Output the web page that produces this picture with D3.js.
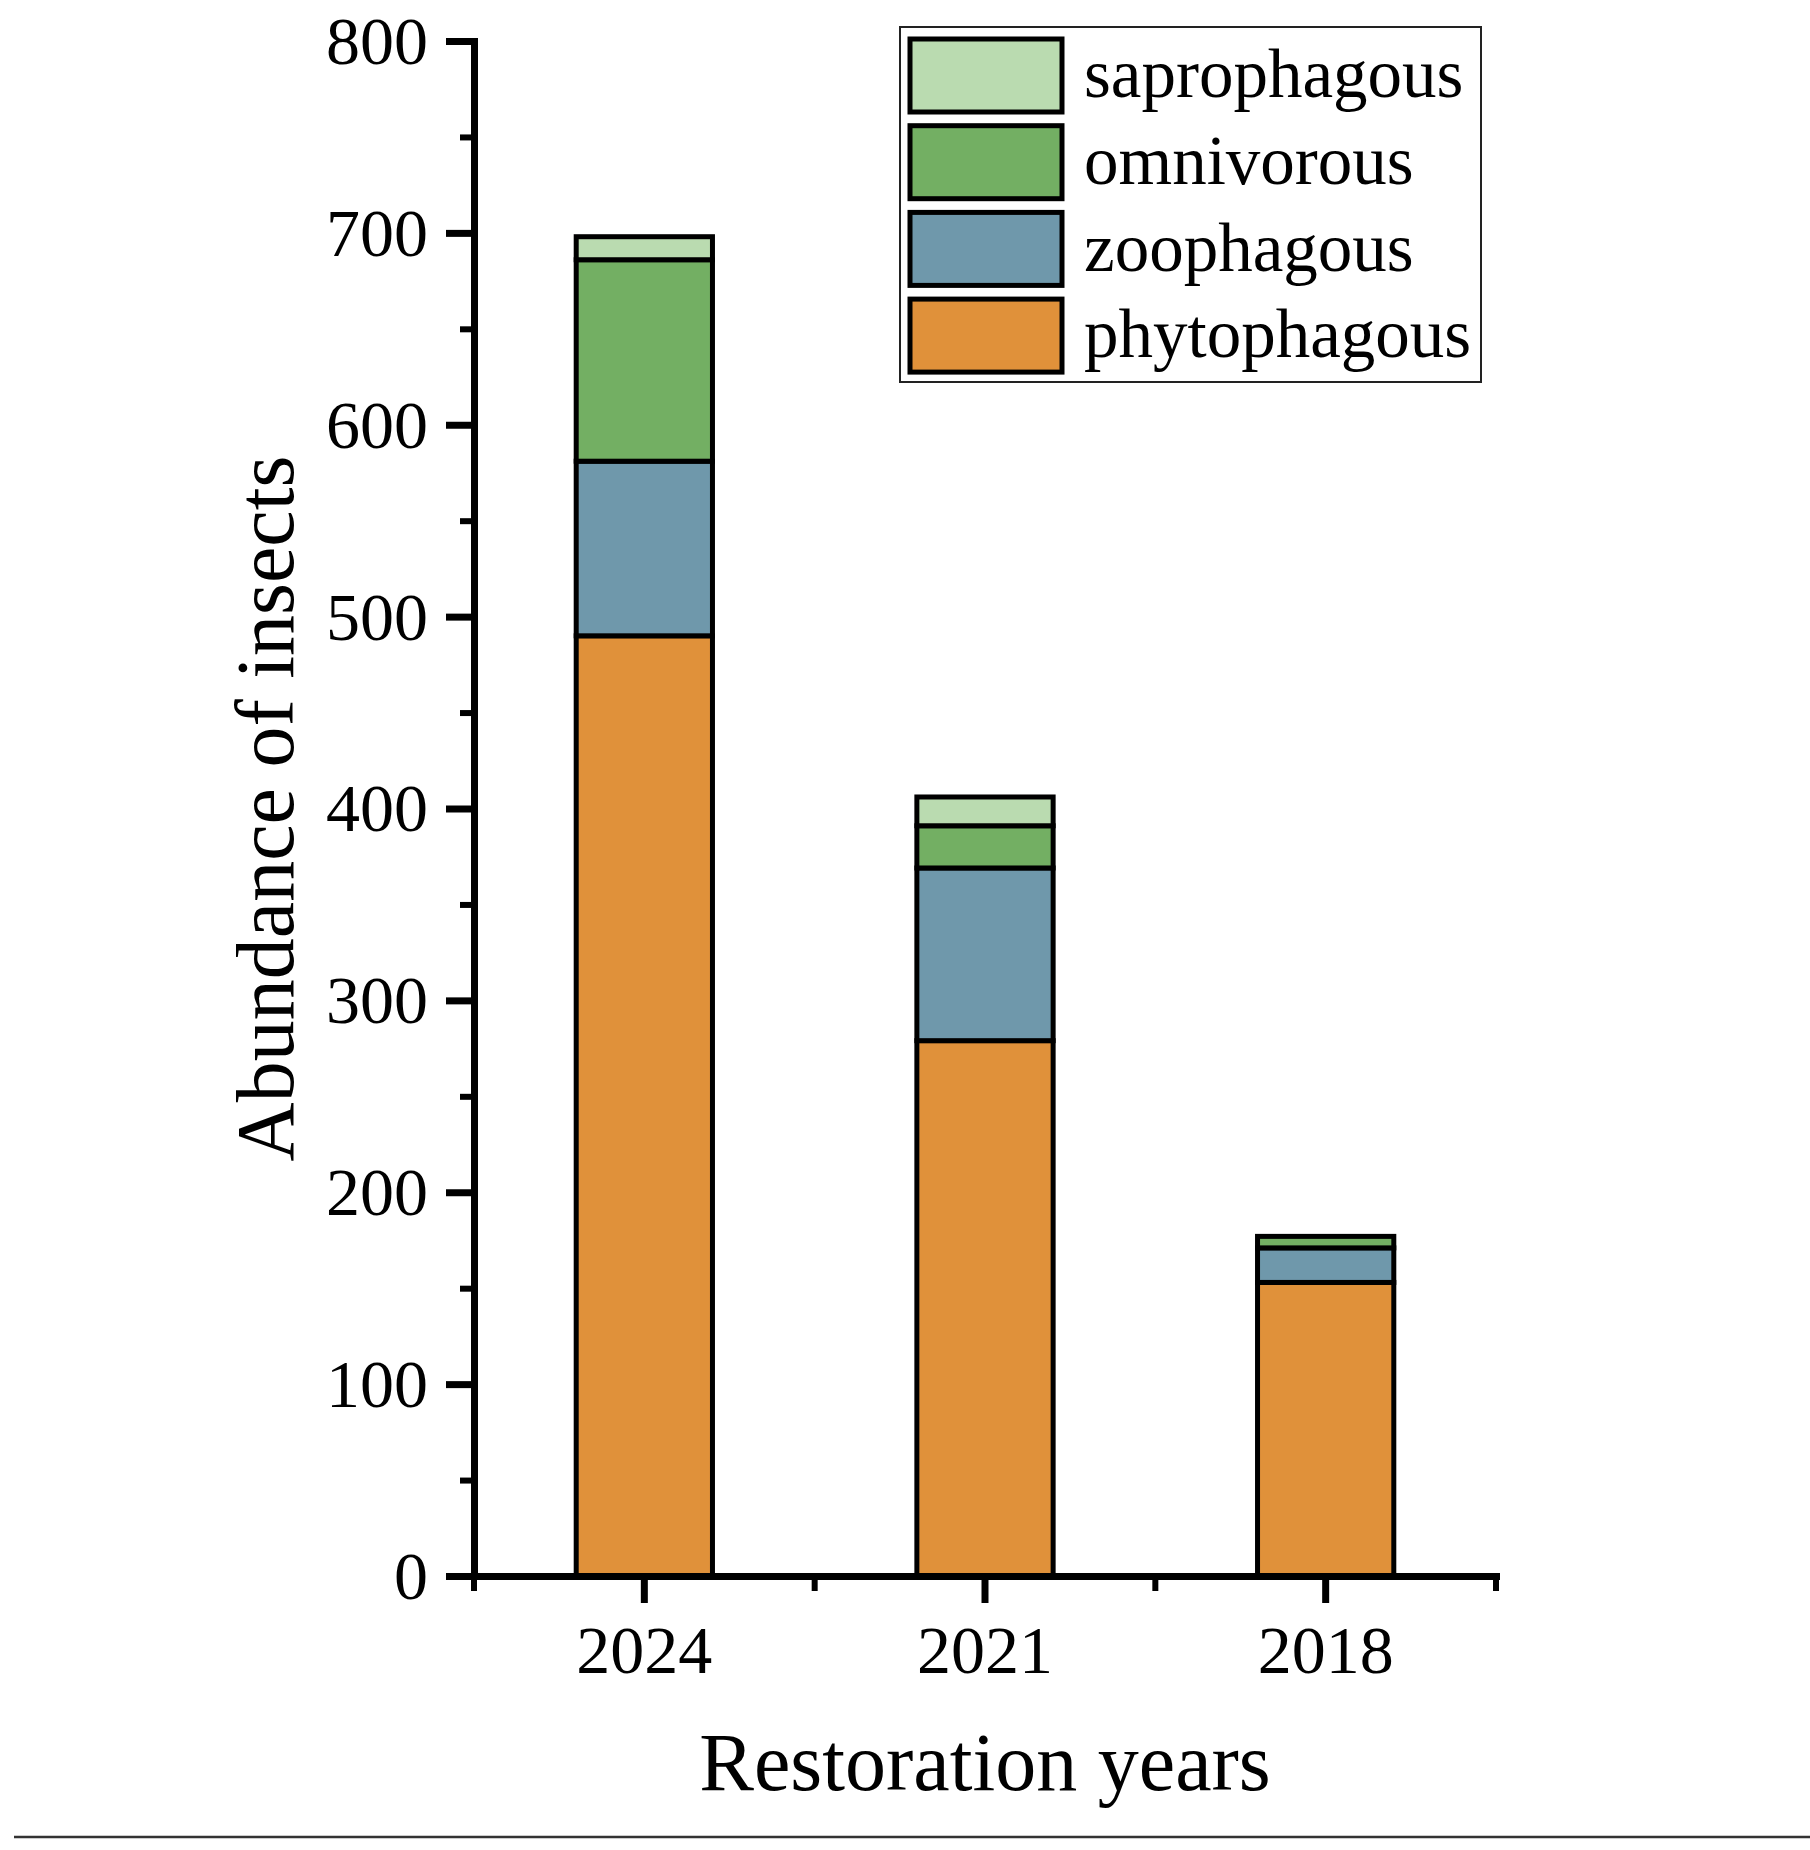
<!DOCTYPE html>
<html>
<head>
<meta charset="utf-8">
<script src="https://cdn.jsdelivr.net/npm/d3@7"></script>
<style>
  body { margin: 0; background: #fff; }
  svg { display: block; font-family: "Liberation Serif", "Times New Roman", serif; }
</style>
</head>
<body>
<svg id="chart" width="1810" height="1850"></svg>
<script>
// restoration years on the x axis
var years = ["2024", "2021", "2018"];
// feeding groups, bottom to top of each stack
var groups = ["phytophagous", "zoophagous", "omnivorous", "saprophagous"];
var phytophagous = [490, 279, 153];
var zoophagous = [91, 90, 18];
var omnivorous = [105, 22, 6];
var saprophagous = [12, 15, 0];
var yTicks = [0, 100, 200, 300, 400, 500, 600, 700, 800];
var yMinorTicks = [50, 150, 250, 350, 450, 550, 650, 750];
var colors = ["#e0913a", "#6f98ab", "#73af63", "#badbb0"];

var series = { phytophagous: phytophagous, zoophagous: zoophagous, omnivorous: omnivorous, saprophagous: saprophagous };
var data = years.map(function(y, i) {
  var row = { year: y };
  groups.forEach(function(k) { row[k] = series[k][i]; });
  return row;
});

var svg = d3.select("#chart");

var x = d3.scaleBand()
  .domain(years)
  .range([474, 1496])
  .paddingInner(0.6)
  .paddingOuter(0.3);

var y = d3.scaleLinear()
  .domain([0, 800])
  .range([1576, 41]);

var z = d3.scaleOrdinal()
  .domain(groups)
  .range(colors);

// bars
svg.append("g")
  .selectAll("g")
  .data(d3.stack().keys(groups)(data))
  .enter().append("g")
  .attr("fill", function(d) { return z(d.key); })
  .selectAll("rect")
  .data(function(d) { return d.filter(function(p) { return p[1] - p[0] > 0; }); })
  .enter().append("rect")
  .attr("x", function(d) { return x(d.data.year); })
  .attr("y", function(d) { return y(d[1]); })
  .attr("width", x.bandwidth())
  .attr("height", function(d) { return y(d[0]) - y(d[1]); })
  .attr("stroke", "#000")
  .attr("stroke-width", 5);

// y axis minor ticks
svg.append("g")
  .attr("transform", "translate(474,0)")
  .call(d3.axisLeft(y).tickValues(yMinorTicks).tickSize(14).tickFormat(""))
  .call(function(g) { g.select(".domain").remove(); })
  .selectAll("line").attr("stroke", "#000").attr("stroke-width", 6);

// y axis
var yAxis = svg.append("g")
  .attr("transform", "translate(474,0)")
  .call(d3.axisLeft(y).tickValues(yTicks).tickSize(28).tickSizeOuter(0).tickPadding(18));
yAxis.select(".domain").attr("stroke", "#000").attr("stroke-width", 7).attr("stroke-linecap", "square");
yAxis.selectAll(".tick line").attr("stroke", "#000").attr("stroke-width", 7);
yAxis.selectAll(".tick text")
  .attr("font-family", "Liberation Serif")
  .attr("font-size", 68)
  .attr("fill", "#000")
  .attr("dy", "0.33em");

// x axis minor ticks at band edges
var edges = d3.range(years.length + 1).map(function(i) { return x.range()[0] + i * x.step(); });
svg.append("g")
  .selectAll("line")
  .data(edges)
  .enter().append("line")
  .attr("x1", function(d) { return d; })
  .attr("x2", function(d) { return d; })
  .attr("y1", 1576)
  .attr("y2", 1591)
  .attr("stroke", "#000")
  .attr("stroke-width", 6);

// x axis
var xAxis = svg.append("g")
  .attr("transform", "translate(0,1576)")
  .call(d3.axisBottom(x).tickSize(27).tickSizeOuter(0).tickPadding(22));
xAxis.select(".domain").attr("stroke", "#000").attr("stroke-width", 7).attr("stroke-linecap", "square");
xAxis.selectAll(".tick line").attr("stroke", "#000").attr("stroke-width", 7);
xAxis.selectAll(".tick text")
  .attr("font-family", "Liberation Serif")
  .attr("font-size", 68)
  .attr("fill", "#000")
  .attr("dy", "0.71em");

// axis titles
svg.append("text")
  .attr("x", (x.range()[0] + x.range()[1]) / 2)
  .attr("y", 1790)
  .attr("text-anchor", "middle")
  .attr("font-size", 82)
  .text("Restoration years");

svg.append("text")
  .attr("transform", "translate(293," + (y(0) + y(800)) / 2 + ") rotate(-90)")
  .attr("text-anchor", "middle")
  .attr("font-size", 82)
  .text("Abundance of insects");

// legend
var legend = svg.append("g").attr("transform", "translate(900,27)");
legend.append("rect")
  .attr("width", 581)
  .attr("height", 355)
  .attr("fill", "#fff")
  .attr("stroke", "#222")
  .attr("stroke-width", 2);

var item = legend.selectAll("g")
  .data(groups.slice().reverse())
  .enter().append("g")
  .attr("transform", function(d, i) { return "translate(0," + (12 + i * 86.7) + ")"; });

item.append("rect")
  .attr("x", 10)
  .attr("y", 0)
  .attr("width", 152)
  .attr("height", 73)
  .attr("fill", z)
  .attr("stroke", "#000")
  .attr("stroke-width", 5);

item.append("text")
  .attr("x", 184)
  .attr("y", 37)
  .attr("dy", "0.31em")
  .attr("font-size", 69)
  .text(function(d) { return d; });

// rule under the figure
svg.append("line")
  .attr("x1", 14)
  .attr("x2", 1810)
  .attr("y1", 1837)
  .attr("y2", 1837)
  .attr("stroke", "#333")
  .attr("stroke-width", 2.5);
</script>
</body>
</html>
